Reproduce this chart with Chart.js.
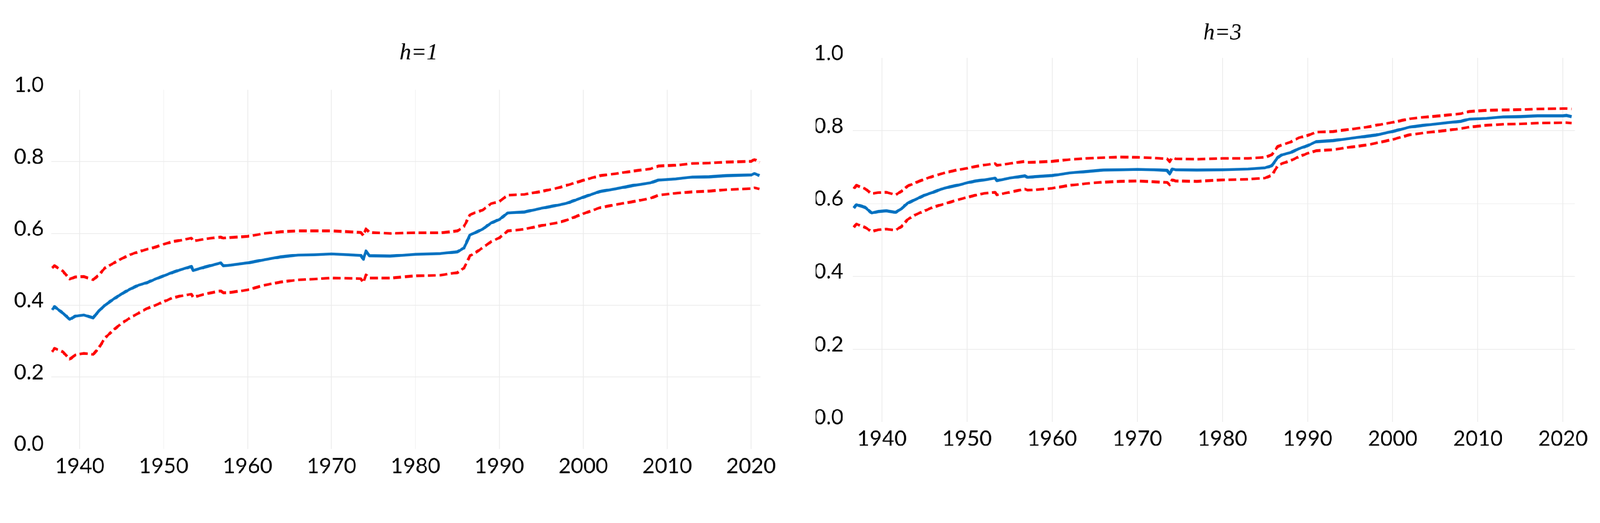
<!DOCTYPE html>
<html>
<head>
<meta charset="utf-8">
<script src="https://cdn.jsdelivr.net/npm/chart.js@4.4.1/dist/chart.umd.min.js"></script>
<style>
  html, body { margin: 0; padding: 0; background: #fff; overflow: hidden; }
  #page { position: absolute; left: 0; top: 0; width: 4414px; height: 1338px; transform-origin: 0 0; overflow: hidden; }
  .panel { position: absolute; top: 0; height: 1338px; }
</style>
</head>
<body>
<div id="page">
  <div class="panel" style="left:0;width:2310px"><canvas id="chartH1"></canvas></div>
  <div class="panel" style="left:2200px;width:2294px"><canvas id="chartH3"></canvas></div>
</div>
<script>
// sample dates (fractional years) shared by both panels
const years = [1936.7, 1937, 1938, 1938.8, 1939.5, 1940.5, 1941.6, 1942.3, 1943, 1944,
  1945, 1946, 1947, 1948, 1949, 1950, 1951, 1952, 1953.3, 1953.5,
  1955, 1956.8, 1957.1, 1958, 1960, 1962, 1964, 1966, 1968, 1970,
  1972, 1973.5, 1973.8, 1974.1, 1974.5, 1977, 1980, 1983, 1985, 1985.8,
  1986.5, 1987, 1988, 1989, 1990, 1991, 1993, 1995, 1997, 1998,
  2000, 2002, 2004, 2006, 2008, 2009, 2011, 2013, 2015, 2017,
  2020, 2020.4, 2021];

// h=1
const midH1 = [0.387, 0.396, 0.378, 0.361, 0.370, 0.373, 0.365, 0.385, 0.400, 0.417,
  0.432, 0.445, 0.456, 0.463, 0.473, 0.482, 0.491, 0.499, 0.508, 0.497,
  0.507, 0.518, 0.510, 0.512, 0.518, 0.527, 0.535, 0.540, 0.541, 0.543,
  0.541, 0.539, 0.528, 0.551, 0.538, 0.537, 0.542, 0.544, 0.549, 0.560,
  0.596, 0.601, 0.612, 0.629, 0.639, 0.657, 0.660, 0.670, 0.679, 0.684,
  0.701, 0.717, 0.725, 0.734, 0.741, 0.749, 0.752, 0.757, 0.758, 0.761,
  0.763, 0.767, 0.761];
const upH1 = [0.504, 0.510, 0.495, 0.473, 0.479, 0.480, 0.471, 0.485, 0.504, 0.517,
  0.530, 0.541, 0.549, 0.556, 0.562, 0.570, 0.577, 0.581, 0.587, 0.579,
  0.585, 0.590, 0.587, 0.589, 0.592, 0.600, 0.605, 0.607, 0.607, 0.607,
  0.605, 0.603, 0.594, 0.613, 0.603, 0.600, 0.602, 0.602, 0.607, 0.620,
  0.652, 0.657, 0.665, 0.683, 0.689, 0.707, 0.709, 0.717, 0.727, 0.734,
  0.748, 0.761, 0.767, 0.774, 0.780, 0.788, 0.790, 0.795, 0.796, 0.799,
  0.801, 0.806, 0.798];
const loH1 = [0.270, 0.280, 0.270, 0.250, 0.262, 0.266, 0.263, 0.282, 0.309, 0.331,
  0.350, 0.365, 0.378, 0.391, 0.400, 0.410, 0.420, 0.426, 0.431, 0.422,
  0.432, 0.440, 0.435, 0.436, 0.443, 0.456, 0.465, 0.471, 0.473, 0.476,
  0.475, 0.474, 0.463, 0.485, 0.476, 0.476, 0.482, 0.484, 0.491, 0.504,
  0.538, 0.544, 0.560, 0.577, 0.588, 0.607, 0.612, 0.622, 0.630, 0.637,
  0.655, 0.672, 0.681, 0.689, 0.698, 0.707, 0.712, 0.716, 0.718, 0.722,
  0.725, 0.727, 0.724];

// h=3
const midH3 = [0.588, 0.597, 0.590, 0.574, 0.578, 0.580, 0.576, 0.586, 0.601, 0.612,
  0.623, 0.631, 0.640, 0.646, 0.651, 0.657, 0.662, 0.665, 0.670, 0.663,
  0.670, 0.676, 0.672, 0.674, 0.677, 0.684, 0.688, 0.692, 0.693, 0.694,
  0.693, 0.691, 0.681, 0.695, 0.693, 0.692, 0.693, 0.695, 0.698, 0.704,
  0.727, 0.734, 0.740, 0.751, 0.759, 0.770, 0.773, 0.779, 0.785, 0.788,
  0.798, 0.810, 0.816, 0.821, 0.826, 0.832, 0.834, 0.838, 0.839, 0.841,
  0.841, 0.842, 0.839];
const upH3 = [0.641, 0.650, 0.641, 0.627, 0.630, 0.631, 0.624, 0.634, 0.648, 0.658,
  0.667, 0.675, 0.682, 0.688, 0.693, 0.697, 0.702, 0.706, 0.710, 0.705,
  0.710, 0.716, 0.713, 0.714, 0.716, 0.721, 0.724, 0.726, 0.728, 0.727,
  0.725, 0.723, 0.715, 0.727, 0.723, 0.722, 0.724, 0.724, 0.727, 0.734,
  0.757, 0.761, 0.769, 0.781, 0.787, 0.796, 0.798, 0.804, 0.810, 0.815,
  0.823, 0.833, 0.838, 0.842, 0.847, 0.853, 0.856, 0.857, 0.858, 0.860,
  0.861, 0.861, 0.860];
const loH3 = [0.535, 0.544, 0.535, 0.523, 0.528, 0.530, 0.527, 0.537, 0.556, 0.570,
  0.580, 0.590, 0.597, 0.604, 0.611, 0.617, 0.623, 0.628, 0.631, 0.624,
  0.631, 0.640, 0.637, 0.638, 0.642, 0.650, 0.655, 0.659, 0.661, 0.662,
  0.660, 0.658, 0.651, 0.665, 0.662, 0.661, 0.665, 0.667, 0.670, 0.678,
  0.704, 0.710, 0.718, 0.729, 0.738, 0.745, 0.748, 0.755, 0.761, 0.766,
  0.776, 0.789, 0.795, 0.800, 0.806, 0.810, 0.815, 0.818, 0.819, 0.821,
  0.822, 0.822, 0.821];

const yTicks = [0, 0.2, 0.4, 0.6, 0.8, 1.0];

// the layout is in 4414x1338 picture pixels; fit it to whatever the viewport is
const S = window.innerWidth / 4414;
document.getElementById('page').style.transform = 'scale(' + S + ')';
const DPR = (window.devicePixelRatio || 1) * S;

const pts = vals => years.map((x, i) => ({ x: x, y: vals[i] }));
const tickFont = { family: 'Lato, "Open Sans", sans-serif', size: 59 };
const RED = '#ff0000', BLUE = '#0070c0';

function makeChart(id, title, mid, up, lo, o) {
  return new Chart(document.getElementById(id), {
    type: 'line',
    data: {
      datasets: [
        { data: pts(up), yAxisID: 'y', borderColor: RED, borderWidth: 7.5, borderDash: [22, 10] },
        { data: pts(lo), yAxisID: 'y', borderColor: RED, borderWidth: 7.5, borderDash: [22, 10] },
        { data: pts(mid), yAxisID: 'y', borderColor: BLUE, borderWidth: 8 }
      ]
    },
    options: {
      responsive: true,
      maintainAspectRatio: false,
      devicePixelRatio: DPR,
      animation: false,
      elements: { point: { radius: 0 }, line: { tension: 0, borderJoinStyle: 'round' } },
      layout: { padding: { left: o.padLeft, right: 0, top: 0, bottom: 0 } },
      plugins: {
        legend: { display: false },
        tooltip: { enabled: false },
        title: {
          display: true,
          text: title,
          color: '#000',
          font: { family: '"Liberation Serif", "Times New Roman", serif', style: 'italic', weight: 'normal', size: 63 },
          padding: { top: o.titleTop, bottom: o.titleBottom }
        }
      },
      scales: {
        x: {
          type: 'linear',
          min: o.xMin, max: o.xMax,
          border: { display: false },
          grid: { color: '#ebebeb', lineWidth: 2, drawTicks: false },
          ticks: {
            stepSize: 10, includeBounds: false, color: '#000', font: tickFont,
            padding: o.xPad, maxRotation: 0,
            callback: v => String(v)
          },
          afterFit: s => { s.height = o.xHeight; }
        },
        y: {
          min: 0, max: 1,
          afterBuildTicks: s => { s.ticks = yTicks.map(v => ({ value: v })); },
          border: { display: false },
          grid: {
            drawTicks: false, lineWidth: 2,
            color: c => (c.tick && (c.tick.value === 0 || c.tick.value === 1)) ? 'rgba(0,0,0,0)' : '#ebebeb'
          },
          ticks: {
            color: '#000', font: tickFont, padding: o.yPad, labelOffset: -13,
            callback: v => Number(v).toFixed(1)
          },
          afterFit: s => { s.width = o.yWidth; }
        },
        // empty spacer on the right, keeps the title where the original has it
        y2: {
          position: 'right', min: 0, max: 1,
          border: { display: false },
          grid: { display: false },
          ticks: { display: false },
          afterFit: s => { s.width = o.rightGap; }
        }
      }
    }
  });
}

const chartH1 = makeChart('chartH1', 'h=1', midH1, upH1, loH1, {
  xMin: 1936.59, xMax: 2021.1, padLeft: 0, yWidth: 141, yPad: 20, rightGap: 213,
  xHeight: 101, xPad: 12, titleTop: 109, titleBottom: 63
});
const chartH3 = makeChart('chartH3', 'h=3', midH3, upH3, loH3, {
  xMin: 1936.55, xMax: 2021.4, padLeft: 50, yWidth: 102, yPad: 25, rightGap: 150,
  xHeight: 175, xPad: 11, titleTop: 54, titleBottom: 30
});
</script>
</body>
</html>
